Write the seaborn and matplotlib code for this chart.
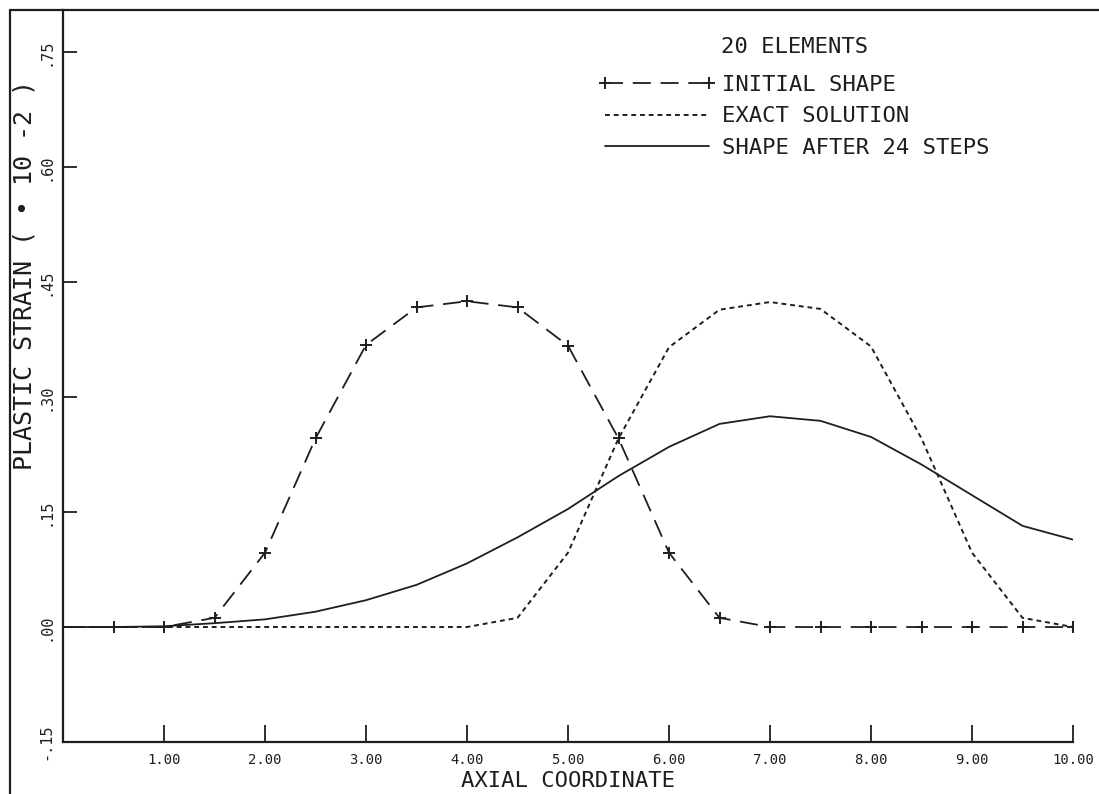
import matplotlib
matplotlib.use("Agg")
import matplotlib.pyplot as plt
import seaborn as sns
from matplotlib.lines import Line2D

# ---- data ----
axial = [0.0, 0.5, 1.0, 1.5, 2.0, 2.5, 3.0, 3.5, 4.0, 4.5, 5.0,
         5.5, 6.0, 6.5, 7.0, 7.5, 8.0, 8.5, 9.0, 9.5, 10.0]
initial_shape = [0.0, 0.0, 0.0, 0.012, 0.097, 0.246, 0.368, 0.417, 0.425, 0.417, 0.367,
                 0.246, 0.097, 0.012, 0.0, 0.0, 0.0, 0.0, 0.0, 0.0, 0.0]
exact_solution = [0.0, 0.0, 0.0, 0.0, 0.0, 0.0, 0.0, 0.0, 0.0, 0.012, 0.097,
                  0.246, 0.365, 0.414, 0.424, 0.415, 0.366, 0.246, 0.097, 0.012, 0.0]
shape_24_steps = [0.0, 0.0, 0.001, 0.005, 0.010, 0.020, 0.035, 0.055, 0.083, 0.117, 0.154,
                  0.197, 0.235, 0.265, 0.275, 0.269, 0.248, 0.212, 0.172, 0.132, 0.114]

x_ticks = [1, 2, 3, 4, 5, 6, 7, 8, 9, 10]
x_ticklabels = ["1.00", "2.00", "3.00", "4.00", "5.00", "6.00", "7.00", "8.00", "9.00", "10.00"]
y_ticks = [-0.15, 0.0, 0.15, 0.30, 0.45, 0.60, 0.75]
y_ticklabels = ["-.15", ".00", ".15", ".30", ".45", ".60", ".75"]

# ---- style ----
sns.set_style("ticks")
plt.rcParams['font.family'] = ['DejaVu Sans Mono', 'DejaVu Sans']
plt.rcParams['lines.scale_dashes'] = False
ink = '#1e1e1e'
plt.rcParams['text.color'] = ink

fig = plt.figure(figsize=(10.99, 7.94), dpi=100)
ax = fig.add_axes([63 / 1099, 52 / 794, 1010 / 1099, 732 / 794])

# initial shape: long dashes with + markers
sns.lineplot(x=axial, y=initial_shape, ax=ax, color=ink, lw=1.3,
             linestyle=(0, (13, 7)), marker='+', markersize=9,
             markeredgewidth=1.4, markeredgecolor=ink, label='INITIAL SHAPE')
# exact solution: short dashes
sns.lineplot(x=axial, y=exact_solution, ax=ax, color=ink, lw=1.4,
             linestyle=(0, (3.5, 2.8)), label='EXACT SOLUTION')
# numerical result
sns.lineplot(x=axial, y=shape_24_steps, ax=ax, color=ink, lw=1.3,
             label='SHAPE AFTER 24 STEPS')

ax.set_xlim(0, 10)
ax.set_ylim(-0.15, 0.805)
ax.set_xticks(x_ticks)
ax.set_xticklabels(x_ticklabels)
ax.set_yticks(y_ticks)
ax.set_yticklabels(y_ticklabels, rotation=90, va='center')

ax.tick_params(axis='both', direction='in', color=ink, width=1.3, labelcolor=ink)
ax.tick_params(axis='x', length=12, pad=8, labelsize=10)
ax.tick_params(axis='y', length=10, pad=7, labelsize=11)

sns.despine(ax=ax)
for side in ['left', 'bottom']:
    ax.spines[side].set_color(ink)
    ax.spines[side].set_linewidth(1.6)

ax.set_xlabel('AXIAL COORDINATE', fontsize=16, labelpad=3, color=ink)
ax.set_ylabel('PLASTIC STRAIN ( • 10 -2 )', fontsize=18, color=ink)
ax.yaxis.set_label_coords(-0.026, 0.638)

ax.legend(loc='upper left', bbox_to_anchor=(0.530, 0.9115),
          frameon=False, fontsize=16, numpoints=2,
          handlelength=5.3, handletextpad=0.25, labelspacing=0.52,
          borderpad=0, borderaxespad=0)
fig.text(795 / 1099, 1 - 47 / 794, '20 ELEMENTS', fontsize=16, color=ink,
         ha='center', va='center')

# scan frame (left and top edges)
fig.add_artist(Line2D([10 / 1099, 10 / 1099], [0, 1 - 10 / 794],
                      transform=fig.transFigure, color=ink, lw=1.6))
fig.add_artist(Line2D([10 / 1099, 1], [1 - 10 / 794, 1 - 10 / 794],
                      transform=fig.transFigure, color=ink, lw=1.6))

fig.savefig('out.png', dpi=100)
